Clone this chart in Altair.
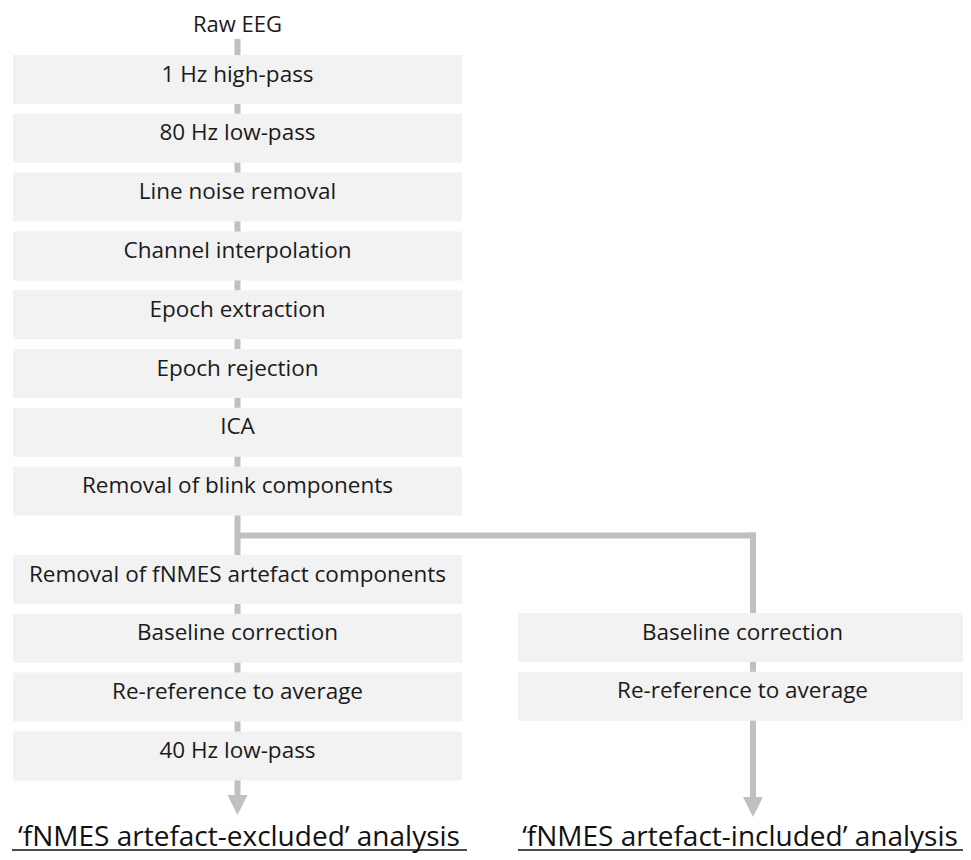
import altair as alt
import pandas as pd

# ---- content ----
start_label = "Raw EEG"
left_steps = [
    "1 Hz high-pass",
    "80 Hz low-pass",
    "Line noise removal",
    "Channel interpolation",
    "Epoch extraction",
    "Epoch rejection",
    "ICA",
    "Removal of blink components",
    "Removal of fNMES artefact components",
    "Baseline correction",
    "Re-reference to average",
    "40 Hz low-pass",
]
right_steps = ["Baseline correction", "Re-reference to average"]
end_labels = ["\u2018fNMES artefact-excluded\u2019 analysis",
              "\u2018fNMES artefact-included\u2019 analysis"]

# ---- layout (reference pixel units) ----
FONT = "Open Sans"
BOX_FILL = "#f2f2f2"
LINE_COL = "#c0c0c0"
TXT = "#1a1a1a"
PITCH = 58.8
BOX_H = 49
LEFT_X = (13, 462)
RIGHT_X = (518, 963)
LEFT_C = 237.5
RIGHT_C = 753
BRANCH_Y = 535.5
SPLIT = 8  # first step after the branch point


def box_top(i):
    if i < SPLIT:
        return 55 + PITCH * i
    return 555 + PITCH * (i - SPLIT)


rows = []
for i, s in enumerate(left_steps):
    t = box_top(i)
    rows.append(dict(label=s, x1=LEFT_X[0], x2=LEFT_X[1], y1=t, y2=t + BOX_H,
                     xc=237.5, yb=t + 26.5))
for j, s in enumerate(right_steps):
    t = 613 + PITCH * j
    rows.append(dict(label=s, x1=RIGHT_X[0], x2=RIGHT_X[1], y1=t, y2=t + BOX_H,
                     xc=742.5, yb=t + 26.5))
boxes = pd.DataFrame(rows)

lines = pd.DataFrame([
    dict(x1=LEFT_C, x2=LEFT_C, y1=39, y2=797),
    dict(x1=LEFT_C, x2=RIGHT_C + 3, y1=BRANCH_Y, y2=BRANCH_Y),
    dict(x1=RIGHT_C, x2=RIGHT_C, y1=BRANCH_Y - 3, y2=799),
])

arrows = pd.DataFrame([dict(x=LEFT_C, y=805), dict(x=RIGHT_C, y=807)])

ends = pd.DataFrame([
    dict(label=end_labels[0], xc=239, yb=845.5, u1=12, u2=467, uy=850),
    dict(label=end_labels[1], xc=740, yb=845.5, u1=518, u2=963, uy=850),
])
start = pd.DataFrame([dict(label=start_label, xc=LEFT_C, yb=32)])

xs = alt.Scale(domain=[8, 963], nice=False, zero=False)
ys = alt.Scale(domain=[8, 854], nice=False, zero=False, reverse=True)
X = lambda f: alt.X(f, type="quantitative", scale=xs, axis=None)
Y = lambda f: alt.Y(f, type="quantitative", scale=ys, axis=None)

line_layer = alt.Chart(lines).mark_rule(color=LINE_COL, strokeWidth=6).encode(
    x=X("x1"), x2="x2", y=Y("y1"), y2="y2")

arrow_layer = alt.Chart(arrows).mark_point(
    shape="M-1,-1L1,-1L0,1Z", size=400, filled=True, opacity=1,
    color=LINE_COL, strokeWidth=0).encode(x=X("x"), y=Y("y"))

box_layer = alt.Chart(boxes).mark_rect(color=BOX_FILL).encode(
    x=X("x1"), x2="x2", y=Y("y1"), y2="y2")

box_text = alt.Chart(boxes).mark_text(
    font=FONT, fontSize=22.5, color=TXT, baseline="alphabetic", align="center").encode(
    x=X("xc"), y=Y("yb"), text="label")

start_text = alt.Chart(start).mark_text(
    font=FONT, fontSize=22, color=TXT, baseline="alphabetic", align="center").encode(
    x=X("xc"), y=Y("yb"), text="label")

end_text = alt.Chart(ends).mark_text(
    font=FONT, fontSize=28, color="#111111", baseline="alphabetic", align="center").encode(
    x=X("xc"), y=Y("yb"), text="label")

underline = alt.Chart(ends).mark_rule(color="#111111", strokeWidth=1.5).encode(
    x=X("u1"), x2="u2", y=Y("uy"))

chart = alt.layer(
    line_layer, arrow_layer, box_layer, box_text, start_text, end_text, underline
).properties(
    width=955, height=846, padding=0, background="white",
    autosize=alt.AutoSizeParams(type="none"),
).configure_view(stroke=None)

chart.save("out.html", embed_options={"renderer": "svg", "actions": False})
